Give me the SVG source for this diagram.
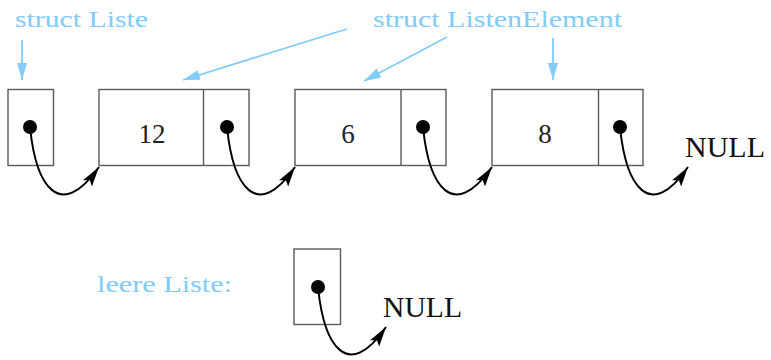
<svg xmlns="http://www.w3.org/2000/svg" width="771" height="360" viewBox="0 0 771 360">
<style>
.box{fill:#fff;stroke:#5a5a5a;stroke-width:1.4}
.dot{fill:#000}
.ptr{fill:none;stroke:#000;stroke-width:2}
.lbl{fill:#82cbfa;font-family:"Liberation Serif",serif;font-size:24px}
.blu{fill:none;stroke:#82cbfa;stroke-width:1.8}
.num{fill:#222;font-family:"Liberation Serif",serif;font-size:27px;text-anchor:middle}
.nul{fill:#111;font-family:"Liberation Serif",serif;font-size:29px}
</style>
<defs>
<marker id="ah" markerUnits="userSpaceOnUse" markerWidth="22" markerHeight="14" refX="20" refY="7" orient="auto">
<path d="M0,1.5 L20,7 L0,12.5 L4,7 Z" fill="#000"/>
</marker>
<marker id="bh" markerUnits="userSpaceOnUse" markerWidth="18" markerHeight="14" refX="17" refY="7" orient="auto">
<path d="M0,2 L17,7 L0,12 Z" fill="#82cbfa"/>
</marker>
</defs>
<g id="labels">
<text class="lbl" x="15" y="27" textLength="133" lengthAdjust="spacingAndGlyphs">struct Liste</text>
<text class="lbl" x="373" y="27" textLength="249" lengthAdjust="spacingAndGlyphs">struct ListenElement</text>
<text class="lbl" x="97" y="292" textLength="135" lengthAdjust="spacingAndGlyphs">leere Liste:</text>
</g>
<g id="liste">
<rect class="box" x="8" y="89.5" width="45.5" height="76"/>
<circle class="dot" cx="30" cy="127" r="7"/>
</g>
<g id="elem1">
<rect class="box" x="99" y="89.5" width="150" height="76"/>
<line class="box" x1="203.5" y1="89.5" x2="203.5" y2="165.5"/>
<text class="num" x="152" y="143">12</text>
<circle class="dot" cx="227" cy="127" r="7"/>
</g>
<g id="elem2">
<rect class="box" x="295" y="89.5" width="151" height="76"/>
<line class="box" x1="401" y1="89.5" x2="401" y2="165.5"/>
<text class="num" x="348" y="143">6</text>
<circle class="dot" cx="423" cy="127" r="7"/>
</g>
<g id="elem3">
<rect class="box" x="492" y="89.5" width="151" height="76"/>
<line class="box" x1="598.5" y1="89.5" x2="598.5" y2="165.5"/>
<text class="num" x="545" y="143">8</text>
<circle class="dot" cx="620" cy="127" r="7"/>
</g>
<g id="null1">
<text class="nul" x="685" y="157" textLength="80" lengthAdjust="spacingAndGlyphs">NULL</text>
</g>
<g id="empty">
<rect class="box" x="294" y="249" width="46.5" height="75.5"/>
<circle class="dot" cx="318" cy="287" r="7"/>
</g>
<g id="null2">
<text class="nul" x="383" y="317" textLength="79" lengthAdjust="spacingAndGlyphs">NULL</text>
</g>
<g id="connectors">
<path class="ptr" marker-end="url(#ah)" d="M30,127 C36,187 60,222 99,167"/>
<path class="ptr" marker-end="url(#ah)" d="M227,127 C233,187 257,222 295,167"/>
<path class="ptr" marker-end="url(#ah)" d="M423,127 C429,187 453,222 492,167"/>
<path class="ptr" marker-end="url(#ah)" d="M620,127 C626,187 650,222 688,167"/>
<path class="ptr" marker-end="url(#ah)" d="M318,287 C324,347 348,382 386,327"/>
<line class="blu" marker-end="url(#bh)" x1="22" y1="40" x2="22" y2="80"/>
<line class="blu" marker-end="url(#bh)" x1="347" y1="29" x2="183" y2="80"/>
<line class="blu" marker-end="url(#bh)" x1="447" y1="37" x2="364" y2="81"/>
<line class="blu" marker-end="url(#bh)" x1="553" y1="38" x2="553" y2="80"/>
</g>
</svg>
